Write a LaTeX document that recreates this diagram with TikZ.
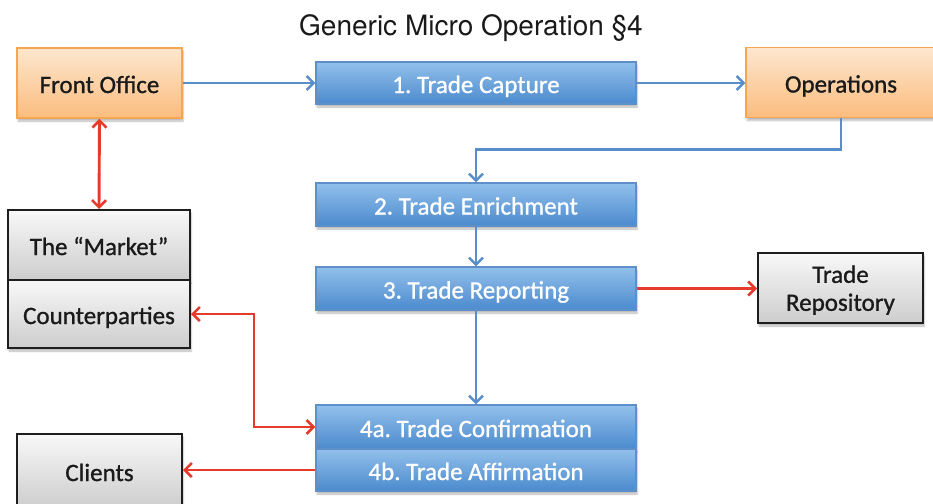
\documentclass[tikz,border=0pt]{standalone}
\usepackage{fontspec}
\setmainfont{Carlito}
\newfontfamily\labelfont{Carlito}[FakeBold=1.0]
\newfontfamily\titlefont{TeX Gyre Heros}
\usetikzlibrary{arrows.meta,shadows.blur,calc}
\frenchspacing

\definecolor{blueTop}{HTML}{92C0EC}
\definecolor{blueBot}{HTML}{4B8ACD}
\definecolor{blueEdge}{HTML}{5F8FC8}
\definecolor{orTop}{HTML}{FDE7CF}
\definecolor{orBot}{HTML}{FBBC7E}
\definecolor{orEdge}{HTML}{F6A650}
\definecolor{grTop}{HTML}{F8F8F8}
\definecolor{grBot}{HTML}{CDCDCD}
\definecolor{grEdge}{HTML}{1E1E1E}
\definecolor{flowBlue}{HTML}{5A8ECB}
\definecolor{flowRed}{HTML}{E63B2C}
\definecolor{inkText}{HTML}{1A1A1A}

\begin{document}
\begin{tikzpicture}[x=1pt,y=-1pt,
  every node/.style={inner sep=0pt, align=center},
  boxfont/.style={font=\labelfont\fontsize{25}{29}\selectfont},
  oneline/.style={text height=20pt, text depth=0pt},
  softshadow/.style={blur shadow={shadow xshift=1pt, shadow yshift=-3pt,
      shadow blur steps=6, shadow opacity=28}},
  stepbox/.style={rectangle, draw=blueEdge, line width=1.3pt,
      top color=blueTop, bottom color=blueBot, text=white, boxfont, oneline,
      minimum width=320pt, softshadow},
  deskbox/.style={rectangle, draw=orEdge, line width=1.5pt,
      top color=orTop, bottom color=orBot, text=inkText, boxfont, oneline,
      minimum height=70pt, softshadow},
  partybox/.style={rectangle, draw=grEdge, line width=2pt,
      top color=grTop, bottom color=grBot, text=inkText, boxfont,
      softshadow},
  flow/.style={draw=flowBlue, line width=2.8pt,
      -{Straight Barb[length=7pt,width=14pt,line width=2.4pt]}},
  link/.style={draw=flowRed, line width=2.9pt,
      -{Straight Barb[length=7pt,width=14pt,line width=2.6pt]}},
  twolink/.style={draw=flowRed, line width=2.9pt,
      {Straight Barb[length=7pt,width=14pt,line width=2.6pt]}-{Straight Barb[length=7pt,width=14pt,line width=2.6pt]}}
]
\useasboundingbox (0,0) rectangle (933,503);
\clip (0,0) rectangle (933,503);

% title
\node[anchor=base, font=\titlefont\fontsize{28}{32}\selectfont, text=inkText]
  (title) at (471,36) {Generic Micro Operation §4};

% desks
\node[deskbox, minimum width=165pt] (fo)  at (99.5,83)  {Front Office};
\node[deskbox, minimum width=190pt] (ops) at (841,82.5) {Operations};

% processing steps
\node[stepbox, minimum height=42pt] (cap) at (476,83)    {1. Trade Capture};
\node[stepbox, minimum height=43pt] (enr) at (476,204.5) {2. Trade Enrichment};
\node[stepbox, minimum height=43pt] (rep) at (476,288.5) {3. Trade Reporting};
\node[stepbox, minimum height=44pt] (conf) at (476,427)  {4a. Trade Confirmation};
\node[stepbox, minimum height=42pt] (aff)  at (476,470)  {4b. Trade Affirmation};

% outside parties
\node[partybox, oneline, minimum width=182pt, minimum height=70pt] (mkt)  at (99,245)   {The “Market”};
\node[partybox, oneline, minimum width=182pt, minimum height=68pt] (cpty) at (99,314)   {Counterparties};
\node[partybox, text depth=2.7pt, minimum width=165pt, minimum height=70pt] (repo) at (840.5,288) {\strut Trade\\[-1pt]\strut Repository};
\node[partybox, oneline, minimum width=165pt, minimum height=74pt] (cli)  at (99.5,471)  {Clients};

% internal flow
\draw[flow] (fo.east) -- (fo.east -| cap.west);
\draw[flow] (cap.east) -- (cap.east -| ops.west);
\draw[flow] (ops.south) -- ++(0,31) -| (enr.north);
\draw[flow] (enr.south) -- (rep.north);
\draw[flow] (rep.south) -- (conf.north);

% external links
\draw[twolink] (fo.south) -- (mkt.north);
\draw[twolink] (cpty.east) -- ++(63,0) |- (conf.west);
\draw[link] (rep.east) -- (rep.east -| repo.west);
\draw[link] (aff.west) -- (aff.west -| cli.east);
\end{tikzpicture}
\end{document}
